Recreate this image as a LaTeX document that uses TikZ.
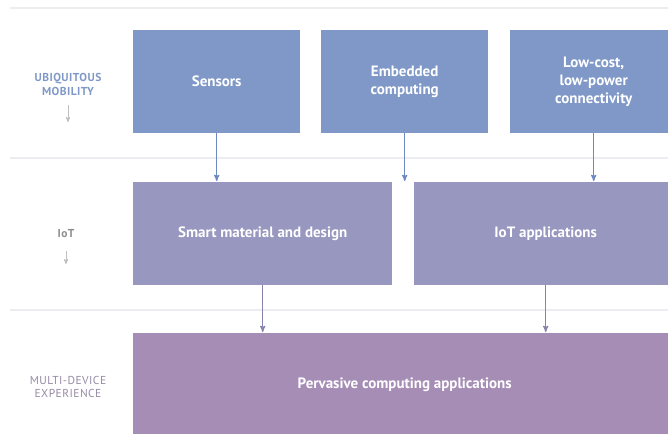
\documentclass[tikz,border=0pt]{standalone}
\usepackage{fontspec}
\setmainfont{PT Sans}
\usepackage{xcolor}
\usepackage{tikz}
\usetikzlibrary{arrows}
\definecolor{mobfill}{RGB}{127,152,200}
\definecolor{iotfill}{RGB}{151,151,192}
\definecolor{mdxfill}{RGB}{166,141,182}
\definecolor{moblink}{RGB}{110,136,193}
\definecolor{iotlink}{RGB}{134,132,174}
\definecolor{mdxtext}{RGB}{150,138,165}
\definecolor{rule}{RGB}{236,236,241}
\tikzset{
  layer/.style = {rectangle, inner sep=0pt, align=center, anchor=north west,
    text=white, font=\fontsize{15}{18}\selectfont\bfseries, minimum height=103pt},
  lay_mob/.style = {layer, fill=mobfill, minimum width=167pt},% couche mobilite
  lay_iot/.style = {layer, fill=iotfill},% couche IoT
  lay_mdx/.style = {layer, fill=mdxfill},% couche multi-appareil
  side/.style = {align=center,
    font=\fontsize{11.5}{14}\selectfont\addfontfeatures{LetterSpace=4}},
  link/.style = {->, >=stealth', line width=1.2pt, shorten >=1pt},
  hint/.style = {->, >=stealth', black!25, line width=0.8pt}
}
\begin{document}
\begin{tikzpicture}[x=1pt, y=-1pt]
\useasboundingbox (0,0) rectangle (668,433);
\clip (0,0) rectangle (668,433);
% separateurs
\foreach \y in {8,158,310}
  \draw [rule, line width=1.5pt] (10,\y) -- (680,\y);
% niveau 1
\node [lay_mob] (sensors) at (133,30) {Sensors};
\node [lay_mob] (embedded) at (321,30) {Embedded\\computing};
\node [lay_mob] (lowcost) at (510,30) {Low-cost,\\low-power\\connectivity};
% niveau 2
\node [lay_iot, minimum width=259pt] (smart) at (133,182) {Smart material and design};
\node [lay_iot, minimum width=263pt] (iotapp) at (414,182) {IoT applications};
% niveau 3
\node [lay_mdx, minimum width=543pt] (pervasive) at (133,333) {Pervasive computing applications};
% liens
\draw [link, moblink] (sensors.south) -- (sensors.south |- smart.north);
\draw [link, moblink] (embedded.south) -- (embedded.south |- smart.north);
\draw [link, moblink] (lowcost.south) -- (lowcost.south |- iotapp.north);
\draw [link, iotlink] (smart.south) -- (smart.south |- pervasive.north);
\draw [link, iotlink] (iotapp.south) -- (iotapp.south |- pervasive.north);
% etiquettes
\node [side, text=mobfill] (mob) at (68,84) {\bfseries UBIQUITOUS\\\bfseries MOBILITY};
\node [side, text=black!45] (iot) at (66,234) {\bfseries IoT};
\node [side, text=mdxtext, font=\fontsize{11.5}{13.5}\selectfont\addfontfeatures{LetterSpace=4}] (mdx) at (68,387) {MULTI-DEVICE\\EXPERIENCE};
\coordinate (mob_a) at (68,105);
\coordinate (mob_b) at (68,122);
\coordinate (iot_a) at (66,251);
\coordinate (iot_b) at (66,264);
\draw [hint] (mob_a) -- (mob_b);
\draw [hint] (iot_a) -- (iot_b);
\end{tikzpicture}
\end{document}
